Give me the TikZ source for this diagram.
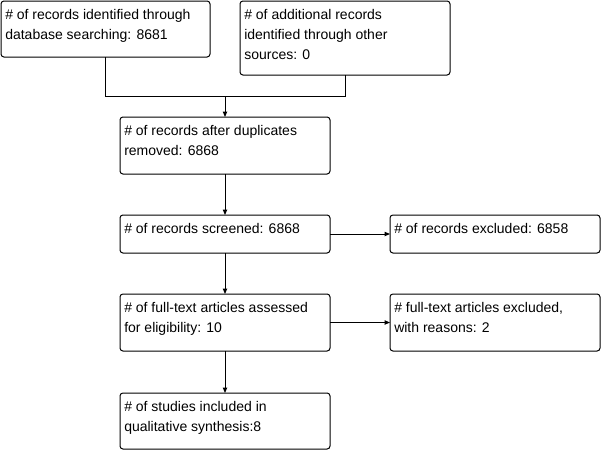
\documentclass[tikz,border=0pt]{standalone}
\usepackage{fontspec}
\setmainfont{Liberation Sans}
\usetikzlibrary{arrows.meta}
\begin{document}
\begin{tikzpicture}[x=0.75pt,y=-0.75pt,
  box/.style={draw=black, line width=0.75pt, rounded corners=2.2pt, inner sep=0pt, outer sep=0pt},
  txt/.style={anchor=north west, inner sep=0pt, align=left, font=\fontsize{10.5}{15}\selectfont},
  conn/.style={draw=black, line width=0.75pt},
  arr/.style={conn, -{Triangle[length=4pt,width=3.2pt]}}]
\useasboundingbox (0,0) rectangle (602,450);
\fill[white] (0,0) rectangle (602,450);
% boxes
\node[box, minimum width=209*0.75pt, minimum height=56*0.75pt] (a) at (105.5,29) {};
\node[box, minimum width=210*0.75pt, minimum height=74*0.75pt] (b) at (345,38) {};
\node[box, minimum width=210*0.75pt, minimum height=57*0.75pt] (c) at (225,145.5) {};
\node[box, minimum width=210*0.75pt, minimum height=38*0.75pt] (d) at (225,234) {};
\node[box, minimum width=210*0.75pt, minimum height=38*0.75pt] (e) at (495,234) {};
\node[box, minimum width=210*0.75pt, minimum height=57*0.75pt] (f) at (225,322.5) {};
\node[box, minimum width=210*0.75pt, minimum height=57*0.75pt] (g) at (495,322.5) {};
\node[box, minimum width=210*0.75pt, minimum height=56*0.75pt] (h) at (225,421) {};
% texts
\node[txt] (ta) at ([shift={(4,8.5)}]a.north west) {\# of records identified through\\database searching: 8681};
\node[txt] (tb) at ([shift={(4,8.5)}]b.north west) {\# of additional records\\identified through other\\sources: 0};
\node[txt] (tc) at ([shift={(4,8.5)}]c.north west) {\# of records after duplicates\\removed: 6868};
\node[txt] (td) at ([shift={(4,8.5)}]d.north west) {\# of records screened: 6868};
\node[txt] (te) at ([shift={(4,8.5)}]e.north west) {\# of records excluded: 6858};
\node[txt] (tf) at ([shift={(4,8.5)}]f.north west) {\# of full-text articles assessed\\for eligibility: 10};
\node[txt] (tg) at ([shift={(4,8.5)}]g.north west) {\# full-text articles excluded,\\with reasons: 2};
\node[txt] (th) at ([shift={(4,8.5)}]h.north west) {\# of studies included in\\qualitative synthesis:8};
% connectors
\coordinate (j) at (225,96.5);
\draw[conn] (a.south) |- (j) -| (b.south);
\draw[arr] (j) -- (c.north);
\draw[arr] (c.south) -- (d.north);
\draw[arr] (d.east) -- (e.west);
\draw[arr] (d.south) -- (f.north);
\draw[arr] (f.east) -- (g.west);
\draw[arr] (f.south) -- (h.north);
\end{tikzpicture}
\end{document}
